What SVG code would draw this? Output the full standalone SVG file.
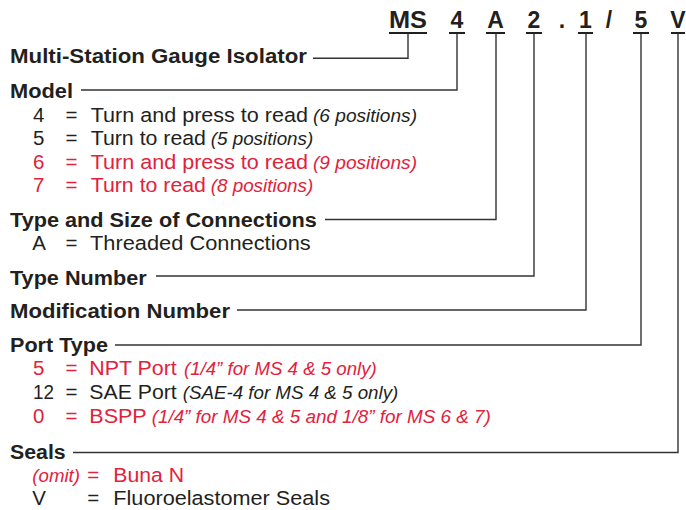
<svg xmlns="http://www.w3.org/2000/svg" width="686" height="510" viewBox="0 0 686 510">
<style>
text{font-family:"Liberation Sans",Arial,sans-serif;fill:#231f20}
.h{font-size:23px;font-weight:bold;text-anchor:middle}
.b{font-size:20px;font-weight:bold}
.r{font-size:20.5px}
.i{font-size:17.5px;font-style:italic}
.red{fill:#e2213b}
.u{stroke:#231f20;stroke-width:2}
.c{fill:none;stroke:#333;stroke-width:1.4}
</style>
<rect width="686" height="510" fill="#fff"/>
<g id="header">
<text class="h" x="408" y="28.3" textLength="38" lengthAdjust="spacingAndGlyphs">MS</text>
<text class="h" x="457" y="28.3">4</text>
<text class="h" x="495.5" y="28.3">A</text>
<text class="h" x="534" y="28.3">2</text>
<text class="h" x="562" y="28.3">.</text>
<text class="h" x="585.5" y="28.3">1</text>
<text class="h" x="609" y="28.3">/</text>
<text class="h" x="641" y="28.3">5</text>
<text class="h" x="678" y="28.3">V</text>
<line class="u" x1="389" y1="33" x2="427" y2="33"/>
<line class="u" x1="449" y1="33" x2="465" y2="33"/>
<line class="u" x1="486" y1="33" x2="505" y2="33"/>
<line class="u" x1="526" y1="33" x2="542" y2="33"/>
<line class="u" x1="578" y1="33" x2="593" y2="33"/>
<line class="u" x1="633" y1="33" x2="649" y2="33"/>
<line class="u" x1="671" y1="33" x2="685" y2="33"/>
</g>
<g id="connectors">
<polyline class="c" points="313,58.3 408,58.3 408,34"/>
<polyline class="c" points="81,90 457,90 457,34"/>
<polyline class="c" points="325,219.5 496,219.5 496,34"/>
<polyline class="c" points="156,276 534,276 534,34"/>
<polyline class="c" points="237,310 586,310 586,34"/>
<polyline class="c" points="115,345 641,345 641,34"/>
<polyline class="c" points="73,452.5 678,452.5 678,34"/>
</g>
<g id="product">
<text class="b" x="10" y="63.3" textLength="297" lengthAdjust="spacingAndGlyphs">Multi-Station Gauge Isolator</text>
</g>
<g id="model">
<text class="b" x="10" y="97.7" textLength="63" lengthAdjust="spacingAndGlyphs">Model</text>
<text class="r" x="33" y="121.7">4</text><text class="r" x="65.5" y="121.7">=</text>
<text class="r" x="90.7" y="121.7" textLength="217.3" lengthAdjust="spacingAndGlyphs">Turn and press to read</text>
<text class="i" x="313" y="121.7" textLength="104" lengthAdjust="spacingAndGlyphs">(6 positions)</text>
<text class="r" x="33" y="145">5</text><text class="r" x="65.5" y="145">=</text>
<text class="r" x="90.7" y="145" textLength="115.3" lengthAdjust="spacingAndGlyphs">Turn to read</text>
<text class="i" x="210.7" y="145" textLength="102.6" lengthAdjust="spacingAndGlyphs">(5 positions)</text>
<text class="r red" x="33" y="168.7">6</text><text class="r red" x="65.5" y="168.7">=</text>
<text class="r red" x="90.7" y="168.7" textLength="217.3" lengthAdjust="spacingAndGlyphs">Turn and press to read</text>
<text class="i red" x="313" y="168.7" textLength="104" lengthAdjust="spacingAndGlyphs">(9 positions)</text>
<text class="r red" x="33" y="192">7</text><text class="r red" x="65.5" y="192">=</text>
<text class="r red" x="90.7" y="192" textLength="115.3" lengthAdjust="spacingAndGlyphs">Turn to read</text>
<text class="i red" x="210.7" y="192" textLength="102.6" lengthAdjust="spacingAndGlyphs">(8 positions)</text>
</g>
<g id="connections">
<text class="b" x="10" y="226.7" textLength="306.7" lengthAdjust="spacingAndGlyphs">Type and Size of Connections</text>
<text class="r" x="32.3" y="250">A</text><text class="r" x="65.5" y="250">=</text>
<text class="r" x="90" y="250" textLength="220.7" lengthAdjust="spacingAndGlyphs">Threaded Connections</text>
</g>
<g id="type-number">
<text class="b" x="10" y="284.5" textLength="136.7" lengthAdjust="spacingAndGlyphs">Type Number</text>
</g>
<g id="modification-number">
<text class="b" x="10" y="318" textLength="220" lengthAdjust="spacingAndGlyphs">Modification Number</text>
</g>
<g id="port-type">
<text class="b" x="10" y="351.7" textLength="98" lengthAdjust="spacingAndGlyphs">Port Type</text>
<text class="r red" x="33" y="375">5</text><text class="r red" x="65.5" y="375">=</text>
<text class="r red" x="89.3" y="375" textLength="87.4" lengthAdjust="spacingAndGlyphs">NPT Port</text>
<text class="i red" x="184" y="375" textLength="192.7" lengthAdjust="spacingAndGlyphs">(1/4” for MS 4 &amp; 5 only)</text>
<text class="r" x="33" y="398.7" textLength="21" lengthAdjust="spacingAndGlyphs">12</text><text class="r" x="65.5" y="398.7">=</text>
<text class="r" x="89.3" y="398.7" textLength="87.4" lengthAdjust="spacingAndGlyphs">SAE Port</text>
<text class="i" x="182.7" y="398.7" textLength="215.6" lengthAdjust="spacingAndGlyphs">(SAE-4 for MS 4 &amp; 5 only)</text>
<text class="r red" x="33" y="422.5">0</text><text class="r red" x="65.5" y="422.5">=</text>
<text class="r red" x="89.3" y="422.5" textLength="57.4" lengthAdjust="spacingAndGlyphs">BSPP</text>
<text class="i red" x="151.7" y="422.5" textLength="339" lengthAdjust="spacingAndGlyphs">(1/4” for MS 4 &amp; 5 and 1/8” for MS 6 &amp; 7)</text>
</g>
<g id="seals">
<text class="b" x="10" y="458.5" textLength="55.7" lengthAdjust="spacingAndGlyphs">Seals</text>
<text class="i red" x="32.3" y="481.7" textLength="47.7" lengthAdjust="spacingAndGlyphs">(omit)</text>
<text class="r red" x="87.3" y="481.7">=</text>
<text class="r red" x="113.3" y="481.7" textLength="70.7" lengthAdjust="spacingAndGlyphs">Buna N</text>
<text class="r" x="32.3" y="505">V</text><text class="r" x="87.3" y="505">=</text>
<text class="r" x="113.3" y="505" textLength="216.7" lengthAdjust="spacingAndGlyphs">Fluoroelastomer Seals</text>
</g>
</svg>
